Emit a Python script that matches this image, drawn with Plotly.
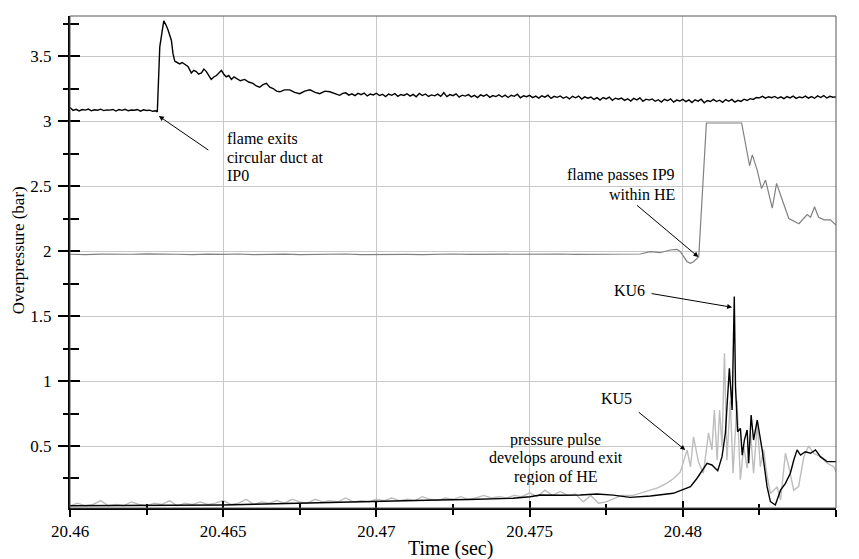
import plotly.graph_objects as go

# ---------------- data ----------------
# IP0 (top black trace)
ip0_time = [
    20.4600, 20.4601, 20.4602, 20.4603, 20.4604, 20.4605, 20.4606, 20.4607, 20.4608, 20.4609,
    20.4610, 20.4611, 20.4612, 20.4613, 20.4614, 20.4615, 20.4616, 20.4617, 20.4618, 20.4619,
    20.4620, 20.4621, 20.4622, 20.4623, 20.4624, 20.4625, 20.4626, 20.4627, 20.4628,
    20.46285, 20.46293, 20.46306, 20.46313, 20.46320,
    20.46331, 20.46336, 20.46342, 20.46350, 20.46358, 20.46366, 20.46374, 20.46385, 20.46396, 20.46404,
    20.46412, 20.46420, 20.46429, 20.46437, 20.46445, 20.46453, 20.46461, 20.46470, 20.46478, 20.46486,
    20.46494, 20.46502, 20.46510, 20.46518, 20.46527, 20.46535, 20.46543, 20.46556, 20.46570, 20.46583,
    20.46597, 20.46608, 20.46619, 20.46630, 20.46641, 20.46652, 20.46663, 20.46674, 20.46685, 20.46700,
    20.46717, 20.46733, 20.46750, 20.46766, 20.46783, 20.46800, 20.46815, 20.46832, 20.46848,
    20.4687, 20.4688, 20.4689,
    20.4690, 20.4691, 20.4692, 20.4693, 20.4694, 20.4695, 20.4696, 20.4697, 20.4698, 20.4699,
    20.4700, 20.4701, 20.4702, 20.4703, 20.4704, 20.4705, 20.4706, 20.4707, 20.4708, 20.4709,
    20.4710, 20.4711, 20.4712, 20.4713, 20.4714, 20.4715, 20.4716, 20.4717, 20.4718, 20.4719,
    20.4720, 20.4721, 20.4722, 20.4723, 20.4724, 20.4725, 20.4726, 20.4727, 20.4728, 20.4729,
    20.4730, 20.4731, 20.4732, 20.4733, 20.4734, 20.4735, 20.4736, 20.4737, 20.4738, 20.4739,
    20.4740, 20.4741, 20.4742, 20.4743, 20.4744, 20.4745, 20.4746, 20.4747, 20.4748, 20.4749,
    20.4750, 20.4751, 20.4752, 20.4753, 20.4754, 20.4755, 20.4756, 20.4757, 20.4758, 20.4759,
    20.4760, 20.4761, 20.4762, 20.4763, 20.4764, 20.4765, 20.4766, 20.4767, 20.4768, 20.4769,
    20.4770, 20.4771, 20.4772, 20.4773, 20.4774, 20.4775, 20.4776, 20.4777, 20.4778, 20.4779,
    20.4780, 20.4781, 20.4782, 20.4783, 20.4784, 20.4785, 20.4786, 20.4787, 20.4788, 20.4789,
    20.4790, 20.4791, 20.4792, 20.4793, 20.4794, 20.4795, 20.4796, 20.4797, 20.4798, 20.4799,
    20.4800, 20.4801, 20.4802, 20.4803, 20.4804, 20.4805, 20.4806, 20.4807, 20.4808, 20.4809,
    20.4810, 20.4811, 20.4812, 20.4813, 20.4814, 20.4815, 20.4816, 20.4817, 20.4818, 20.4819,
    20.4820, 20.4821, 20.4822, 20.4823, 20.4824, 20.4825, 20.4826, 20.4827, 20.4828, 20.4829,
    20.4830, 20.4831, 20.4832, 20.4833, 20.4834, 20.4835, 20.4836, 20.4837, 20.4838, 20.4839,
    20.4840, 20.4841, 20.4842, 20.4843, 20.4844, 20.4845, 20.4846, 20.4847, 20.4848, 20.4849,
    20.4850,
]
ip0_value = [
    3.105, 3.082, 3.090, 3.078, 3.088, 3.084, 3.092, 3.079, 3.087, 3.083,
    3.091, 3.080, 3.086, 3.084, 3.089, 3.077, 3.088, 3.082, 3.090, 3.079,
    3.085, 3.083, 3.089, 3.076, 3.086, 3.081, 3.084, 3.075, 3.079,
    3.07, 3.57, 3.77, 3.74, 3.70,
    3.62, 3.52, 3.46, 3.45, 3.44, 3.45, 3.44, 3.42, 3.37, 3.39,
    3.38, 3.36, 3.37, 3.40, 3.38, 3.35, 3.32, 3.34, 3.35, 3.37,
    3.39, 3.36, 3.34, 3.35, 3.32, 3.34, 3.33, 3.31, 3.32, 3.30,
    3.29, 3.27, 3.26, 3.28, 3.29, 3.26, 3.25, 3.23, 3.225, 3.24,
    3.24, 3.22, 3.21, 3.23, 3.24, 3.22, 3.21, 3.23, 3.225,
    3.210, 3.198, 3.213,
    3.217, 3.199, 3.209, 3.195, 3.213, 3.203, 3.215, 3.193, 3.207, 3.201,
    3.214, 3.196, 3.206, 3.188, 3.208, 3.198, 3.211, 3.190, 3.204, 3.197,
    3.210, 3.192, 3.205, 3.187, 3.212, 3.196, 3.208, 3.189, 3.201, 3.194,
    3.207, 3.190, 3.218, 3.188, 3.203, 3.195, 3.209, 3.184, 3.199, 3.192,
    3.203, 3.186, 3.197, 3.180, 3.201, 3.191, 3.204, 3.182, 3.196, 3.188,
    3.202, 3.185, 3.199, 3.181, 3.198, 3.190, 3.206, 3.179, 3.194, 3.187,
    3.197, 3.180, 3.192, 3.176, 3.194, 3.184, 3.199, 3.174, 3.190, 3.182,
    3.193, 3.175, 3.187, 3.170, 3.190, 3.179, 3.192, 3.169, 3.186, 3.176,
    3.185, 3.166, 3.180, 3.161, 3.181, 3.170, 3.184, 3.160, 3.176, 3.168,
    3.176, 3.159, 3.171, 3.154, 3.174, 3.163, 3.178, 3.152, 3.168, 3.161,
    3.170, 3.152, 3.164, 3.146, 3.167, 3.156, 3.171, 3.145, 3.161, 3.154,
    3.167, 3.149, 3.162, 3.142, 3.163, 3.153, 3.168, 3.141, 3.158, 3.150,
    3.166, 3.150, 3.160, 3.144, 3.165, 3.152, 3.166, 3.146, 3.159, 3.151,
    3.168, 3.158, 3.172, 3.166, 3.181, 3.178, 3.190, 3.176, 3.187, 3.179,
    3.189, 3.175, 3.186, 3.172, 3.188, 3.178, 3.191, 3.174, 3.185, 3.179,
    3.192, 3.176, 3.188, 3.175, 3.193, 3.181, 3.196, 3.177, 3.190, 3.183,
    3.186,
]

# IP9 (mid grey trace)
ip9_time = [
    20.4600, 20.4605, 20.4610, 20.4615, 20.4620, 20.4625, 20.4630, 20.4635, 20.4640, 20.4645,
    20.4650, 20.4655, 20.4660, 20.4665, 20.4670, 20.4675, 20.4680, 20.4685, 20.4690, 20.4695,
    20.4700, 20.4705, 20.4710, 20.4715, 20.4720, 20.4725, 20.4730, 20.4735, 20.4740, 20.4745,
    20.4750, 20.4755, 20.4760, 20.4765, 20.4770, 20.4775, 20.4780,
    20.47861, 20.47894, 20.47926, 20.47959, 20.47981, 20.47992, 20.48003, 20.48014, 20.48025, 20.48035,
    20.48052, 20.48077, 20.48192, 20.48205, 20.48218, 20.48227, 20.48243, 20.48257, 20.48270, 20.48292,
    20.48306, 20.48325, 20.48346, 20.48379, 20.48406, 20.48417, 20.48430, 20.48443, 20.48461, 20.48482,
    20.48500,
]
ip9_value = [
    1.975, 1.972, 1.976, 1.973, 1.975, 1.978, 1.974, 1.975, 1.972, 1.976,
    1.974, 1.977, 1.973, 1.975, 1.976, 1.972, 1.975, 1.974, 1.977, 1.973,
    1.975, 1.976, 1.974, 1.972, 1.975, 1.977, 1.974, 1.975, 1.973, 1.976,
    1.974, 1.975, 1.977, 1.974, 1.976, 1.975, 1.978,
    1.977, 1.995, 1.987, 2.008, 2.013, 1.995, 1.956, 1.918, 1.905, 1.918,
    1.956, 2.985, 2.985, 2.83, 2.656, 2.74, 2.62, 2.48, 2.546, 2.33,
    2.52, 2.39, 2.25, 2.21, 2.28, 2.26, 2.34, 2.26, 2.24, 2.24,
    2.20,
]

# KU6 (bottom black trace)
ku6_time = [
    20.4600, 20.4610, 20.4620, 20.4630, 20.4640, 20.4650, 20.4660, 20.4670, 20.4680, 20.4690,
    20.4700, 20.4710, 20.4720, 20.4730, 20.4740, 20.47446, 20.47502, 20.47534, 20.47600, 20.47665,
    20.47720, 20.47773, 20.47828, 20.47894, 20.47969, 20.47998, 20.48025, 20.48046, 20.48079, 20.48095,
    20.48114, 20.48128, 20.48139, 20.48152, 20.48161, 20.48168, 20.48172, 20.48179, 20.48188, 20.48194,
    20.48201, 20.48210, 20.48215, 20.48223, 20.48231, 20.48243, 20.48259, 20.48275, 20.48286, 20.48302,
    20.48319, 20.48335, 20.48351, 20.48362, 20.48373, 20.48384, 20.48400, 20.48417, 20.48433, 20.48449,
    20.48471, 20.48500,
]
ku6_value = [
    0.040, 0.041, 0.040, 0.043, 0.045, 0.046, 0.052, 0.058, 0.064, 0.070,
    0.074, 0.078, 0.084, 0.088, 0.093, 0.098, 0.110, 0.123, 0.121, 0.123,
    0.131, 0.122, 0.105, 0.115, 0.136, 0.16, 0.187, 0.25, 0.367, 0.354,
    0.31, 0.418, 0.60, 1.098, 0.777, 1.65, 0.956, 0.61, 0.636, 0.43,
    0.546, 0.623, 0.367, 0.738, 0.546, 0.70, 0.47, 0.187, 0.072, 0.046,
    0.16, 0.213, 0.29, 0.39, 0.47, 0.43, 0.456, 0.444, 0.47, 0.418,
    0.38, 0.38,
]

# KU5 (light grey trace)
ku5_time = [
    20.46000, 20.46025, 20.46050, 20.46075, 20.46100, 20.46125, 20.46150, 20.46175, 20.46200, 20.46225,
    20.46250, 20.46275, 20.46300, 20.46325, 20.46350, 20.46375, 20.46400, 20.46425, 20.46450, 20.46475,
    20.46500, 20.46525, 20.46550, 20.46575, 20.46600, 20.46625, 20.46650, 20.46675, 20.46700, 20.46725,
    20.46750, 20.46775, 20.46800, 20.46825, 20.46850, 20.46875, 20.46900, 20.46925, 20.46950, 20.46975,
    20.47000, 20.47025, 20.47050, 20.47075, 20.47100, 20.47125, 20.47150, 20.47175, 20.47200, 20.47225,
    20.47250, 20.47275, 20.47300, 20.47325, 20.47350, 20.47375, 20.47400, 20.47425, 20.47450, 20.47475,
    20.47500, 20.47525, 20.47550, 20.47575, 20.47600, 20.47625, 20.47650, 20.47675, 20.47700, 20.47725,
    20.47750,
    20.47800, 20.47838, 20.47870, 20.47894, 20.47920, 20.47948, 20.47970, 20.47992, 20.48014, 20.48025,
    20.48035, 20.48052, 20.48067, 20.48084, 20.48095, 20.48103, 20.48112, 20.48120, 20.48128, 20.48136,
    20.48144, 20.48155, 20.48164, 20.48177, 20.48188, 20.48199, 20.48210, 20.48221, 20.48231, 20.48243,
    20.48253, 20.48264, 20.48275, 20.48286, 20.48297, 20.48308, 20.48319, 20.48335, 20.48346, 20.48362,
    20.48378, 20.48395, 20.48411, 20.48427, 20.48449, 20.48471, 20.48493, 20.48500,
]
ku5_value = [
    0.04, 0.06, 0.04, 0.05, 0.08, 0.04, 0.05, 0.04, 0.07, 0.05,
    0.04, 0.06, 0.05, 0.08, 0.04, 0.06, 0.05, 0.07, 0.05, 0.06,
    0.08, 0.05, 0.06, 0.09, 0.05, 0.07, 0.06, 0.08, 0.06, 0.09,
    0.07, 0.06, 0.09, 0.07, 0.08, 0.07, 0.10, 0.07, 0.08, 0.07,
    0.09, 0.08, 0.10, 0.08, 0.09, 0.08, 0.11, 0.09, 0.08, 0.10,
    0.09, 0.11, 0.09, 0.10, 0.12, 0.10, 0.11, 0.10, 0.12, 0.11,
    0.14, 0.11, 0.16, 0.12, 0.15, 0.12, 0.13, 0.07, 0.12, 0.06,
    0.07,
    0.12, 0.12, 0.14, 0.16, 0.18, 0.215, 0.25, 0.30, 0.47, 0.34,
    0.57, 0.37, 0.29, 0.60, 0.47, 0.777, 0.39, 0.777, 0.50, 1.213,
    0.39, 0.85, 0.29, 0.85, 0.24, 0.50, 0.33, 0.60, 0.29, 0.67,
    0.34, 0.47, 0.27, 0.136, 0.16, 0.187, 0.085, 0.444, 0.34, 0.16,
    0.187, 0.418, 0.50, 0.444, 0.418, 0.367, 0.34, 0.30,
]

# axes ticks
x_major = [20.46, 20.465, 20.47, 20.475, 20.48, 20.485]
x_labels = ["20.46", "20.465", "20.47", "20.475", "20.48", "20.485"]
x_minor = [20.4625, 20.4675, 20.4725, 20.4775, 20.4825]
y_major = [0.5, 1, 1.5, 2, 2.5, 3, 3.5]
y_labels = ["0.5", "1", "1.5", "2", "2.5", "3", "3.5"]
y_minor = [0.25, 0.75, 1.25, 1.75, 2.25, 2.75, 3.25, 3.75]

x_range = [20.46, 20.485]
y_range = [0.023, 3.808]

FONT = "Liberation Serif"

# ---------------- figure ----------------
fig = go.Figure()
fig.add_trace(go.Scatter(x=ku5_time, y=ku5_value, mode="lines", name="KU5",
                         line=dict(color="#bdbdbd", width=1.4)))
fig.add_trace(go.Scatter(x=ip9_time, y=ip9_value, mode="lines", name="IP9",
                         line=dict(color="#808080", width=1.2)))
fig.add_trace(go.Scatter(x=ku6_time, y=ku6_value, mode="lines", name="KU6",
                         line=dict(color="black", width=1.4)))
fig.add_trace(go.Scatter(x=ip0_time, y=ip0_value, mode="lines", name="IP0",
                         line=dict(color="black", width=1.4)))

fig.update_layout(
    width=859, height=559,
    margin=dict(l=70, r=23, t=16, b=51),
    paper_bgcolor="white", plot_bgcolor="white",
    showlegend=False,
    font=dict(family=FONT, color="black", size=17),
    xaxis=dict(
        range=x_range, tickmode="array", tickvals=x_major, ticktext=x_labels,
        ticks="outside", ticklen=7, tickwidth=2, tickcolor="black",
        showline=True, linecolor="black", linewidth=2,
        showgrid=True, gridcolor="#c8c8c8", gridwidth=1, zeroline=False,
        tickfont=dict(family=FONT, size=17, color="black"),
        minor=dict(tickmode="array", tickvals=x_minor, ticks="outside", ticklen=5,
                   tickwidth=2, tickcolor="black", showgrid=False),
    ),
    xaxis2=dict(
        range=x_range, overlaying="x", anchor="y", side="bottom",
        tickmode="array", tickvals=x_major, ticks="inside", ticklen=7, tickwidth=2,
        tickcolor="black", showticklabels=False, showline=False, showgrid=False,
        zeroline=False,
        minor=dict(tickmode="array", tickvals=x_minor, ticks="inside", ticklen=4,
                   tickwidth=2, tickcolor="black", showgrid=False),
    ),
    yaxis=dict(
        range=y_range, tickmode="array", tickvals=y_major, ticktext=y_labels,
        ticks="outside", ticklen=10, tickwidth=2, tickcolor="black",
        showline=True, linecolor="black", linewidth=2,
        showgrid=True, gridcolor="#c8c8c8", gridwidth=1, zeroline=False,
        tickfont=dict(family=FONT, size=17, color="black"),
        ticklabelstandoff=3,
        minor=dict(tickmode="array", tickvals=y_minor, ticks="outside", ticklen=5,
                   tickwidth=2, tickcolor="black", showgrid=False),
    ),
    yaxis2=dict(
        range=y_range, overlaying="y", anchor="x", side="left",
        tickmode="array", tickvals=y_major, ticks="inside", ticklen=10, tickwidth=2,
        tickcolor="black", showticklabels=False, showline=False, showgrid=False,
        zeroline=False,
        minor=dict(tickmode="array", tickvals=y_minor, ticks="inside", ticklen=9,
                   tickwidth=2, tickcolor="black", showgrid=False),
    ),
)

# invisible trace so the overlay axes are drawn
fig.add_trace(go.Scatter(x=[x_range[0]], y=[y_range[0]], xaxis="x2", yaxis="y2",
                         mode="markers", marker=dict(opacity=0), hoverinfo="skip",
                         showlegend=False))

# plot frame (top/right border)
fig.add_shape(type="rect", xref="paper", yref="paper", x0=0, x1=1, y0=0, y1=1,
              line=dict(color="#555555", width=1), layer="above")

ann_font = dict(family=FONT, size=16, color="black")
annotations = []

# axis titles
annotations.append(dict(text="Overpressure (bar)", xref="paper", yref="paper",
                        x=-0.0679, y=0.524, textangle=-90, showarrow=False,
                        xanchor="center", yanchor="middle",
                        font=dict(family=FONT, size=17, color="black")))
annotations.append(dict(text="Time (sec)", xref="paper", yref="paper",
                        x=0.497, y=-0.083, showarrow=False,
                        xanchor="center", yanchor="middle",
                        font=dict(family=FONT, size=20, color="black")))

# text labels (one line each, tight line spacing as in the reference)
def label(text, x, y, xanchor):
    annotations.append(dict(text=text, x=x, y=y, xref="x", yref="y", showarrow=False,
                            xanchor=xanchor, yanchor="middle", height=16,
                            font=ann_font))

label("flame exits", 20.46505, 2.869, "left")
label("circular duct at", 20.46505, 2.727, "left")
label("IP0", 20.46505, 2.585, "left")
label("flame passes IP9", 20.47982, 2.583, "right")
label("within HE", 20.47982, 2.441, "right")
label("KU6", 20.47825, 1.700, "center")
label("KU5", 20.47784, 0.872, "center")
label("pressure pulse", 20.47585, 0.548, "center")
label("develops around exit", 20.47585, 0.406, "center")
label("region of HE", 20.47585, 0.264, "center")

# arrows
def arrow(x, y, ax, ay):
    annotations.append(dict(text="", x=x, y=y, xref="x", yref="y", ax=ax, ay=ay,
                            axref="pixel", ayref="pixel", showarrow=True,
                            arrowhead=2, arrowsize=1, arrowwidth=1,
                            arrowcolor="black", standoff=0))

arrow(20.4629, 3.038, 51, 35)
arrow(20.48051, 1.954, -63, -53)
arrow(20.48161, 1.567, -82, -14)
arrow(20.48008, 0.469, -48, -39)

fig.update_layout(annotations=annotations)

fig.write_html("out.html")
